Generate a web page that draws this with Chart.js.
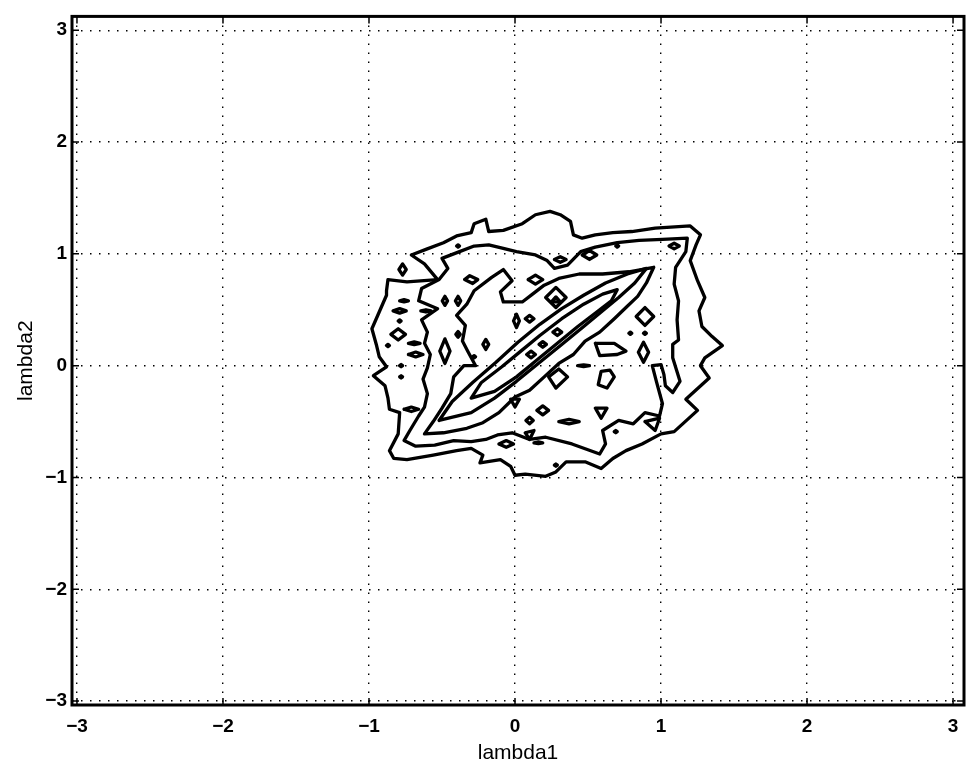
<!DOCTYPE html>
<html>
<head>
<meta charset="utf-8">
<script src="https://cdn.jsdelivr.net/npm/chart.js@4.4.0/dist/chart.umd.min.js"></script>
<style>
  html, body { margin: 0; padding: 0; background: #fff; }
  #wrap { width: 973px; height: 770px; }
</style>
</head>
<body>
<div id="wrap"><canvas id="myChart"></canvas></div>
<script>
// tick positions on both axes
const tickValues = [-3, -2, -1, 0, 1, 2, 3];

// contour levels, outermost first, points as [lambda1, lambda2]
const contour1 = [[-0.71,0.99],[-0.61,1.04],[-0.49,1.10],[-0.40,1.16],[-0.30,1.19],[-0.28,1.27],[-0.20,1.31],[-0.18,1.20],[-0.08,1.21],[0.05,1.27],[0.14,1.35],[0.24,1.38],[0.31,1.35],[0.38,1.29],[0.40,1.17],[0.46,1.14],[0.55,1.17],[0.67,1.19],[0.80,1.20],[0.96,1.23],[1.20,1.25],[1.27,1.17],[1.24,1.08],[1.20,0.94],[1.25,0.76],[1.30,0.61],[1.26,0.49],[1.28,0.35],[1.35,0.26],[1.42,0.18],[1.30,0.07],[1.27,0.00],[1.33,-0.11],[1.17,-0.30],[1.25,-0.40],[1.09,-0.59],[1.00,-0.61],[0.87,-0.70],[0.76,-0.76],[0.67,-0.83],[0.59,-0.92],[0.48,-0.86],[0.35,-0.86],[0.28,-0.95],[0.21,-0.99],[0.07,-0.97],[0.00,-0.98],[-0.03,-0.90],[-0.10,-0.84],[-0.24,-0.87],[-0.22,-0.80],[-0.30,-0.74],[-0.40,-0.76],[-0.56,-0.80],[-0.74,-0.84],[-0.83,-0.83],[-0.86,-0.76],[-0.80,-0.61],[-0.79,-0.42],[-0.86,-0.39],[-0.87,-0.29],[-0.89,-0.18],[-0.97,-0.09],[-0.88,-0.01],[-0.93,0.08],[-0.95,0.19],[-0.98,0.33],[-0.93,0.48],[-0.88,0.63],[-0.88,0.67],[-0.87,0.77],[-0.74,0.75],[-0.53,0.77],[-0.62,0.91]];
const contour2 = [[-0.50,0.96],[-0.38,1.02],[-0.28,1.07],[-0.18,1.08],[-0.08,1.05],[0.01,1.02],[0.14,0.99],[0.22,0.94],[0.27,0.87],[0.36,0.90],[0.45,1.02],[0.55,1.06],[0.70,1.10],[0.85,1.12],[1.01,1.13],[1.18,1.14],[1.17,1.02],[1.10,0.88],[1.09,0.73],[1.12,0.58],[1.11,0.41],[1.12,0.23],[1.08,0.19],[1.08,0.07],[1.13,-0.14],[1.08,-0.24],[1.03,-0.18],[1.02,-0.08],[1.00,0.01],[0.94,0.00],[0.97,-0.15],[1.01,-0.34],[0.99,-0.45],[0.89,-0.42],[0.81,-0.52],[0.71,-0.49],[0.60,-0.58],[0.62,-0.70],[0.58,-0.79],[0.39,-0.70],[0.21,-0.64],[0.10,-0.66],[-0.02,-0.60],[-0.12,-0.62],[-0.20,-0.66],[-0.30,-0.68],[-0.42,-0.67],[-0.55,-0.71],[-0.68,-0.72],[-0.76,-0.67],[-0.72,-0.58],[-0.66,-0.45],[-0.62,-0.37],[-0.60,-0.25],[-0.63,-0.12],[-0.60,-0.02],[-0.58,0.10],[-0.62,0.20],[-0.60,0.30],[-0.64,0.41],[-0.53,0.51],[-0.66,0.58],[-0.64,0.69],[-0.52,0.77],[-0.46,0.87]];
const contour3 = [[-0.62,-0.61],[-0.56,-0.50],[-0.50,-0.38],[-0.44,-0.25],[-0.42,-0.10],[-0.35,0.00],[-0.27,0.00],[-0.32,0.12],[-0.36,0.22],[-0.34,0.36],[-0.40,0.45],[-0.33,0.55],[-0.28,0.67],[-0.16,0.79],[-0.08,0.86],[-0.02,0.76],[-0.10,0.66],[-0.08,0.57],[0.05,0.57],[0.12,0.64],[0.20,0.72],[0.30,0.78],[0.44,0.82],[0.60,0.82],[0.78,0.84],[0.95,0.88],[0.90,0.74],[0.84,0.62],[0.76,0.52],[0.68,0.42],[0.58,0.30],[0.48,0.22],[0.40,0.10],[0.30,0.02],[0.20,-0.10],[0.10,-0.22],[0.00,-0.28],[-0.11,-0.42],[-0.22,-0.51],[-0.33,-0.56],[-0.49,-0.60]];
const contour4 = [[-0.52,-0.49],[-0.43,-0.32],[-0.29,-0.15],[-0.13,0.03],[0.02,0.21],[0.17,0.37],[0.32,0.51],[0.47,0.63],[0.62,0.74],[0.77,0.82],[0.90,0.87],[0.82,0.74],[0.71,0.61],[0.59,0.48],[0.46,0.34],[0.32,0.19],[0.17,0.03],[0.01,-0.14],[-0.14,-0.29],[-0.30,-0.42]];
const contour5 = [[-0.30,-0.29],[-0.23,-0.15],[-0.09,-0.01],[0.04,0.13],[0.17,0.27],[0.32,0.42],[0.47,0.55],[0.60,0.64],[0.70,0.68],[0.66,0.58],[0.56,0.48],[0.43,0.35],[0.29,0.20],[0.15,0.05],[0.01,-0.10],[-0.14,-0.23]];

// small closed islands and dots
const islands = [
  [[-0.795,0.86],[-0.77,0.91],[-0.745,0.86],[-0.77,0.81]],
  [[-0.40,1.07],[-0.39,1.08],[-0.38,1.07],[-0.39,1.06]],
  [[-0.345,0.77],[-0.31,0.805],[-0.255,0.77],[-0.29,0.735]],
  [[-0.79,0.58],[-0.76,0.59],[-0.73,0.58],[-0.76,0.57]],
  [[-0.835,0.49],[-0.79,0.51],[-0.745,0.49],[-0.79,0.47]],
  [[-0.645,0.49],[-0.61,0.50],[-0.575,0.49],[-0.61,0.48]],
  [[-0.498,0.58],[-0.48,0.62],[-0.462,0.58],[-0.48,0.54]],
  [[-0.408,0.58],[-0.39,0.62],[-0.372,0.58],[-0.39,0.54]],
  [[-0.85,0.28],[-0.80,0.33],[-0.75,0.28],[-0.80,0.23]],
  [[-0.88,0.18],[-0.87,0.19],[-0.86,0.18],[-0.87,0.17]],
  [[-0.73,0.20],[-0.69,0.212],[-0.65,0.20],[-0.69,0.188]],
  [[-0.73,0.10],[-0.68,0.122],[-0.63,0.10],[-0.68,0.078]],
  [[-0.79,0.00],[-0.78,0.01],[-0.77,0.00],[-0.78,-0.01]],
  [[-0.79,-0.10],[-0.78,-0.09],[-0.77,-0.10],[-0.78,-0.11]],
  [[-0.80,0.40],[-0.79,0.41],[-0.78,0.40],[-0.79,0.39]],
  [[-0.76,-0.39],[-0.71,-0.37],[-0.66,-0.39],[-0.71,-0.41]],
  [[-0.515,0.13],[-0.48,0.24],[-0.445,0.13],[-0.48,0.02]],
  [[-0.405,0.28],[-0.39,0.305],[-0.375,0.28],[-0.39,0.255]],
  [[-0.22,0.19],[-0.20,0.235],[-0.18,0.19],[-0.20,0.145]],
  [[-0.29,0.08],[-0.28,0.09],[-0.27,0.08],[-0.28,0.07]],
  [[-0.01,0.40],[0.01,0.46],[0.03,0.40],[0.01,0.34]],
  [[0.07,0.42],[0.10,0.45],[0.13,0.42],[0.10,0.39]],
  [[0.09,0.77],[0.14,0.81],[0.19,0.77],[0.14,0.73]],
  [[0.27,0.95],[0.31,0.975],[0.35,0.95],[0.31,0.925]],
  [[0.46,0.99],[0.51,1.03],[0.56,0.99],[0.51,0.95]],
  [[0.69,1.07],[0.70,1.08],[0.71,1.07],[0.70,1.06]],
  [[1.055,1.07],[1.09,1.095],[1.125,1.07],[1.09,1.045]],
  [[0.21,0.61],[0.28,0.70],[0.35,0.61],[0.28,0.52]],
  [[0.25,0.57],[0.31,0.57],[0.28,0.615]],
  [[0.08,0.10],[0.11,0.13],[0.14,0.10],[0.11,0.07]],
  [[0.165,0.19],[0.19,0.215],[0.215,0.19],[0.19,0.165]],
  [[0.26,0.30],[0.29,0.33],[0.32,0.30],[0.29,0.27]],
  [[0.83,0.44],[0.89,0.52],[0.95,0.44],[0.89,0.36]],
  [[0.78,0.29],[0.79,0.30],[0.80,0.29],[0.79,0.28]],
  [[0.88,0.29],[0.89,0.30],[0.90,0.29],[0.89,0.28]],
  [[0.845,0.12],[0.88,0.21],[0.915,0.12],[0.88,0.03]],
  [[0.55,0.20],[0.58,0.09],[0.70,0.10],[0.76,0.13],[0.68,0.20]],
  [[0.57,-0.17],[0.59,-0.05],[0.65,-0.04],[0.68,-0.10],[0.63,-0.20]],
  [[0.23,-0.10],[0.30,-0.03],[0.36,-0.10],[0.28,-0.20]],
  [[0.55,-0.38],[0.63,-0.38],[0.59,-0.47]],
  [[0.30,-0.50],[0.37,-0.48],[0.44,-0.50],[0.37,-0.52]],
  [[0.89,-0.50],[0.99,-0.47],[0.96,-0.58]],
  [[0.68,-0.59],[0.69,-0.58],[0.70,-0.59],[0.69,-0.60]],
  [[0.27,-0.89],[0.28,-0.88],[0.29,-0.89],[0.28,-0.90]],
  [[0.43,0.00],[0.47,0.008],[0.51,0.00],[0.47,-0.008]],
  [[-0.03,-0.30],[0.03,-0.30],[0.00,-0.37]],
  [[0.15,-0.40],[0.19,-0.36],[0.23,-0.40],[0.19,-0.44]],
  [[0.075,-0.49],[0.10,-0.46],[0.125,-0.49],[0.10,-0.52]],
  [[0.07,-0.60],[0.13,-0.58],[0.10,-0.66]],
  [[0.13,-0.69],[0.16,-0.682],[0.19,-0.69],[0.16,-0.698]],
  [[-0.11,-0.70],[-0.06,-0.67],[-0.01,-0.70],[-0.06,-0.73]]
];

const loops = [contour1, contour2, contour3, contour4, contour5].concat(islands);

const datasets = loops.map(pts => ({
  data: pts.concat([pts[0]]).map(p => ({ x: p[0], y: p[1] })),
  showLine: true,
  pointRadius: 0,
  pointHoverRadius: 0,
  borderColor: '#000',
  borderWidth: 3.3,
  borderJoinStyle: 'round',
  borderCapStyle: 'round',
  fill: false,
  tension: 0,
}));

function tickLabel(v) {
  return v < 0 ? '\u2212' + Math.abs(v) : String(v);
}

// MATLAB style box with small inward ticks
const boxPlugin = {
  id: 'boxPlugin',
  afterDatasetsDraw(chart) {
    const { ctx, chartArea: a, scales } = chart;
    ctx.save();
    ctx.strokeStyle = '#000';
    ctx.lineWidth = 1.5;
    tickValues.forEach(v => {
      const px = scales.x.getPixelForValue(v);
      const py = scales.y.getPixelForValue(v);
      ctx.beginPath();
      ctx.moveTo(px, a.bottom); ctx.lineTo(px, a.bottom - 7);
      ctx.moveTo(px, a.top); ctx.lineTo(px, a.top + 7);
      ctx.moveTo(a.left, py); ctx.lineTo(a.left + 7, py);
      ctx.moveTo(a.right, py); ctx.lineTo(a.right - 7, py);
      ctx.stroke();
    });
    ctx.lineWidth = 3;
    ctx.strokeRect(a.left, a.top, a.right - a.left, a.bottom - a.top);
    ctx.restore();
  },
};

const tickFont = { family: "'Liberation Sans', Arial, sans-serif", size: 19, weight: 'bold' };
const titleFont = { family: "'Liberation Sans', Arial, sans-serif", size: 21 };

const ctx = document.getElementById('myChart');
new Chart(ctx, {
  type: 'scatter',
  data: { datasets: datasets },
  options: {
    responsive: true,
    maintainAspectRatio: false,
    animation: false,
    events: [],
    layout: { padding: { left: 10, right: 9, top: 10, bottom: 0 } },
    plugins: {
      legend: { display: false },
      tooltip: { enabled: false },
    },
    scales: {
      x: {
        type: 'linear',
        min: -3.034,
        max: 3.075,
        afterBuildTicks: s => { s.ticks = tickValues.map(v => ({ value: v })); },
        afterFit: s => { s.height = 65; },
        ticks: {
          color: '#000',
          font: tickFont,
          padding: 10,
          maxRotation: 0,
          autoSkip: false,
          callback: tickLabel,
        },
        grid: { color: '#000', lineWidth: 1.4, drawTicks: false },
        border: { display: false, dash: [1.5, 7.5] },
        title: { display: true, text: 'lambda1', color: '#000', font: titleFont, padding: { top: 0, bottom: 4 } },
      },
      y: {
        type: 'linear',
        min: -3.035,
        max: 3.124,
        afterBuildTicks: s => { s.ticks = tickValues.map(v => ({ value: v })); },
        afterFit: s => { s.width = 62; },
        ticks: {
          color: '#000',
          font: tickFont,
          padding: 5,
          autoSkip: false,
          callback: tickLabel,
        },
        grid: { color: '#000', lineWidth: 1.4, drawTicks: false },
        border: { display: false, dash: [1.5, 7.5] },
        title: { display: true, text: 'lambda2', color: '#000', font: titleFont, padding: { top: 4, bottom: 0 } },
      },
    },
  },
  plugins: [boxPlugin],
});
</script>
</body>
</html>
